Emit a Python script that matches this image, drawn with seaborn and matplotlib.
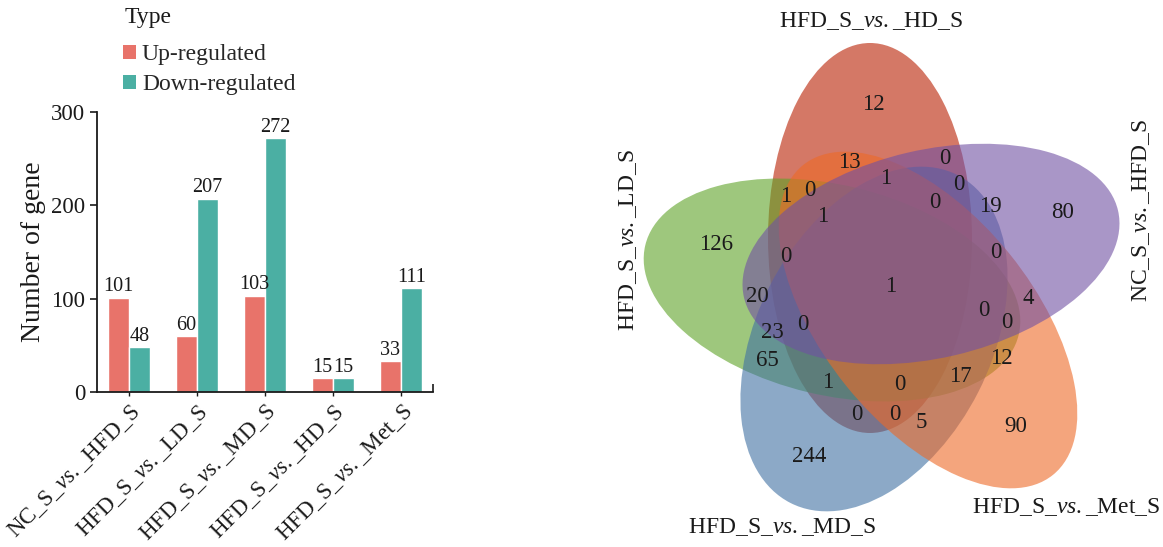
import numpy as np
import pandas as pd
import matplotlib
matplotlib.use("Agg")
import matplotlib.pyplot as plt
import seaborn as sns
from matplotlib.patches import Ellipse, Patch
from matplotlib.ticker import FixedLocator

# ---------------- data ----------------
comparisons = ["NC_S_$vs.$_HFD_S", "HFD_S_$vs.$_LD_S", "HFD_S_$vs.$_MD_S",
               "HFD_S_$vs.$_HD_S", "HFD_S_$vs.$_Met_S"]
up_regulated = [101, 60, 103, 15, 33]
down_regulated = [48, 207, 272, 15, 111]
types = ["Up-regulated", "Down-regulated"]
y_ticks = [0, 100, 200, 300]

# five-set Venn: set names and the count of every region
venn_sets = ["HFD_S_$vs.$_HD_S", "HFD_S_$vs.$_LD_S", "HFD_S_$vs.$_MD_S",
             "HFD_S_$vs.$_Met_S", "NC_S_$vs.$_HFD_S"]
region_counts = [126, 12, 80, 90, 244, 13, 0, 1, 0, 0, 19, 1, 0, 1, 0, 0,
                 1, 20, 0, 4, 0, 23, 0, 65, 12, 17, 1, 0, 0, 0, 5]

# ---------------- layout (pixel space of the figure) ----------------
region_xy = [(716, 245), (873, 104), (1063, 212), (1016, 427), (809, 457),
             (849, 163), (945, 158), (886, 178), (959, 184), (935, 202),
             (990, 207), (786, 197), (810, 191), (823, 217), (786, 256),
             (996, 253), (891, 287), (757, 297), (984, 310), (1028, 298),
             (1007, 323), (772, 333), (803, 325), (767, 360), (1001, 359),
             (960, 377), (828, 382), (900, 385), (857, 415), (895, 415),
             (921, 423)]
# centre x, centre y, semi-major, semi-minor, angle (screen coords);
# listed in drawing order, same order as venn_sets
ellipse_geom = [(870, 238, 195, 102, 90.0),
                (832, 290, 192, 105, 13.5),
                (874, 339, 184, 117, 117.0),
                (928, 320, 199, 105, 51.1),
                (931, 254, 192, 104, -13.1)]
ellipse_colors = ["#B81E00", "#5DA326", "#3F71A3", "#EE6926", "#7150A3"]
set_label_pos = [(871, 21, 0), (628, 240, 90), (782, 527, 0),
                 (1066, 507, 0), (1141, 210, 90)]
bar_colors = ["#E8736A", "#4BAFA3"]

sns.set_theme(style="ticks")
plt.rcParams["font.family"] = ["Liberation Serif", "DejaVu Serif"]
plt.rcParams["mathtext.fontset"] = "custom"
plt.rcParams["mathtext.rm"] = "Liberation Serif"
plt.rcParams["mathtext.it"] = "Liberation Serif:italic"
ink = "#1a1a1a"

W, H = 1163, 547
fig = plt.figure(figsize=(W / 100, H / 100), dpi=100)

# ---------------- Venn diagram ----------------
axv = fig.add_axes([0, 0, 1, 1])
axv.set_xlim(0, W)
axv.set_ylim(H, 0)
axv.axis("off")
for (cx, cy, a, b, ang), col in zip(ellipse_geom, ellipse_colors):
    axv.add_patch(Ellipse((cx, cy), 2 * a, 2 * b, angle=ang,
                          facecolor=col, alpha=0.6, edgecolor="none"))
for (x, y), n in zip(region_xy, region_counts):
    axv.text(x, y, str(n), ha="center", va="center", fontsize=16.5, color=ink)
for name, (x, y, rot) in zip(venn_sets, set_label_pos):
    axv.text(x, y, name, ha="center", va="center", rotation=rot,
             fontsize=17, color=ink)

# ---------------- bar chart ----------------
df = pd.DataFrame({
    "Group": comparisons * 2,
    "Count": up_regulated + down_regulated,
    "Type": [types[0]] * len(comparisons) + [types[1]] * len(comparisons),
})
ax = fig.add_axes([97 / W, 1 - 392 / H, 336 / W, 280 / H])
sns.barplot(data=df, x="Group", y="Count", hue="Type", hue_order=types,
            palette=bar_colors, width=0.62, saturation=1, ax=ax, legend=False)
for cont in ax.containers:
    ax.bar_label(cont, fontsize=14.5, padding=1, color=ink)

ax.set_xlim(-0.47, 4.47)
ax.set_ylim(0, 300)
ax.set_yticks(y_ticks)
ax.set_xlabel("")
ax.set_ylabel("Number of gene", fontsize=20, color=ink, labelpad=4)
ax.tick_params(axis="y", labelsize=16.5, length=5, width=1.2, colors=ink)
ax.tick_params(axis="x", labelsize=16.5, length=3, width=1.0, colors=ink)
# small closing tick at the right end of the x axis
ax.xaxis.set_minor_locator(FixedLocator([4.47]))
ax.tick_params(axis="x", which="minor", direction="in", length=6, width=1.2,
               colors=ink)
for lab in ax.get_xticklabels():
    lab.set_rotation(45)
    lab.set_ha("right")
    lab.set_rotation_mode("anchor")
for s in ["top", "right"]:
    ax.spines[s].set_visible(False)
for s in ["left", "bottom"]:
    ax.spines[s].set_linewidth(1.3)
    ax.spines[s].set_color(ink)

# legend: title plus one square per type
fig.text(125 / W, 1 - 18 / H, "Type", ha="left", va="center",
         fontsize=17, color=ink)
handles = [Patch(facecolor=c, edgecolor="none") for c in bar_colors]
fig.legend(handles, types, loc="upper left",
           bbox_to_anchor=(123 / W, 1 - 44 / H),
           frameon=False, fontsize=17,
           handlelength=0.55, handleheight=0.55, handletextpad=0.25,
           labelspacing=0.38, borderpad=0, borderaxespad=0)

fig.savefig("out.png", dpi=100)
